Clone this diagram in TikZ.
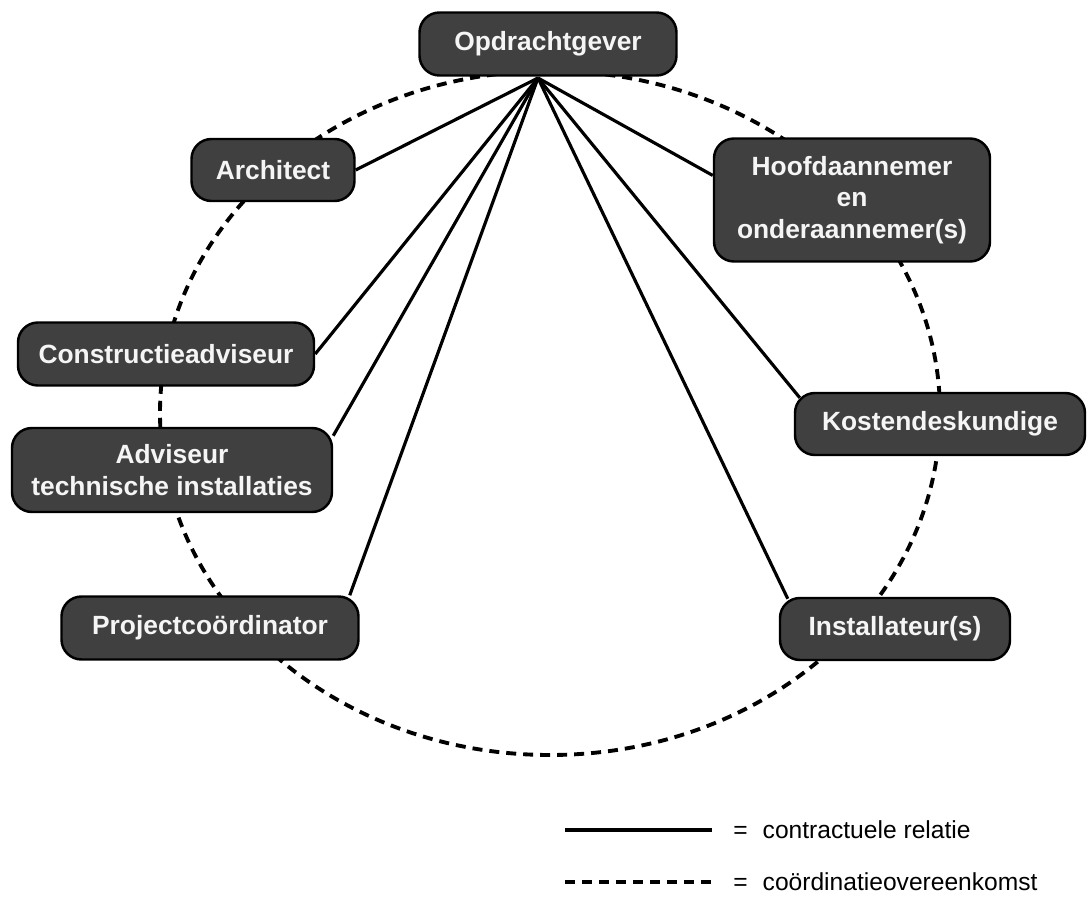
\documentclass[tikz,border=0pt]{standalone}
\usepackage{fontspec}
\setmainfont{Liberation Sans}
\usepackage{xcolor}
\usepackage{tikz}
\usetikzlibrary{positioning, calc}
\definecolor{BoxGrey}{RGB}{64,64,64}
\definecolor{TextWhite}{RGB}{245,245,245}
\tikzset{
  party/.style={draw=black, line width=1.4pt, fill=BoxGrey, text=TextWhite, rounded corners=0.4cm,
    align=center, inner sep=2pt, font=\fontsize{15}{18}\selectfont\bfseries},
  contract/.style={line width=1.8pt, black},
  agree/.style={line width=2.2pt, black, dash pattern=on 0.2cm off 0.14cm},
  legtxt/.style={anchor=west, inner sep=0pt, font=\fontsize{14}{17}\selectfont},
}

\begin{document}
\begin{tikzpicture}
  \useasboundingbox (0,0) rectangle (21.82,17.94);
  % dashed coordination ring
  \draw[agree] (11.0,9.68) ellipse [x radius=7.8cm, y radius=6.84cm];

  \node[party, minimum width=5.14cm, minimum height=1.26cm] (opd) at (10.96,17.06) {Opdrachtgever};
  \node[party, minimum width=3.26cm, minimum height=1.24cm] (arch) at (5.46,14.54) {Architect};
  \node[party, minimum width=5.52cm, minimum height=2.46cm] (hoofd) at (17.04,13.94)
    {Hoofdaannemer\\en\\onderaannemer(s)};
  \node[party, minimum width=5.92cm, minimum height=1.26cm] (cons) at (3.32,10.86) {Constructieadviseur};
  \node[party, minimum width=6.4cm, minimum height=1.68cm] (adv) at (3.44,8.54)
    {Adviseur\\technische installaties};
  \node[party, minimum width=5.8cm, minimum height=1.24cm] (kost) at (18.8,9.46) {Kostendeskundige};
  \node[party, minimum width=5.94cm, minimum height=1.26cm] (proj) at (4.2,5.38) {Projectcoördinator};
  \node[party, minimum width=4.6cm, minimum height=1.24cm] (inst) at (17.9,5.36) {Installateur(s)};

  % contractual lines from the client
  \coordinate (hub) at (10.76,16.38);
  \draw[contract] (hub) -- (arch.east);
  \draw[contract] (hub) -- (hoofd.170);
  \draw[contract] (hub) -- (cons.east);
  \draw[contract] (hub) -- (adv.12);
  \draw[contract] (hub) -- ([xshift=-0.2cm]proj.north east);
  \draw[contract] (hub) -- ([shift={(0.12,-0.12)}]kost.north west);
  \draw[contract] (hub) -- ([shift={(0.18,-0.04)}]inst.north west);

  % legend
  \node[legtxt] (lt1) at (14.66,1.34) {=\hspace{0.3cm}contractuele relatie};
  \node[legtxt] (lt2) at (14.66,0.3) {=\hspace{0.3cm}coördinatieovereenkomst};
  \coordinate (ls1) at (11.3,1.34);
  \coordinate (le1) at (14.24,1.34);
  \coordinate (ls2) at (11.3,0.3);
  \coordinate (le2) at (14.24,0.3);
  \draw[contract] (ls1) -- (le1);
  \draw[agree] (ls2) -- (le2);
\end{tikzpicture}
\end{document}
